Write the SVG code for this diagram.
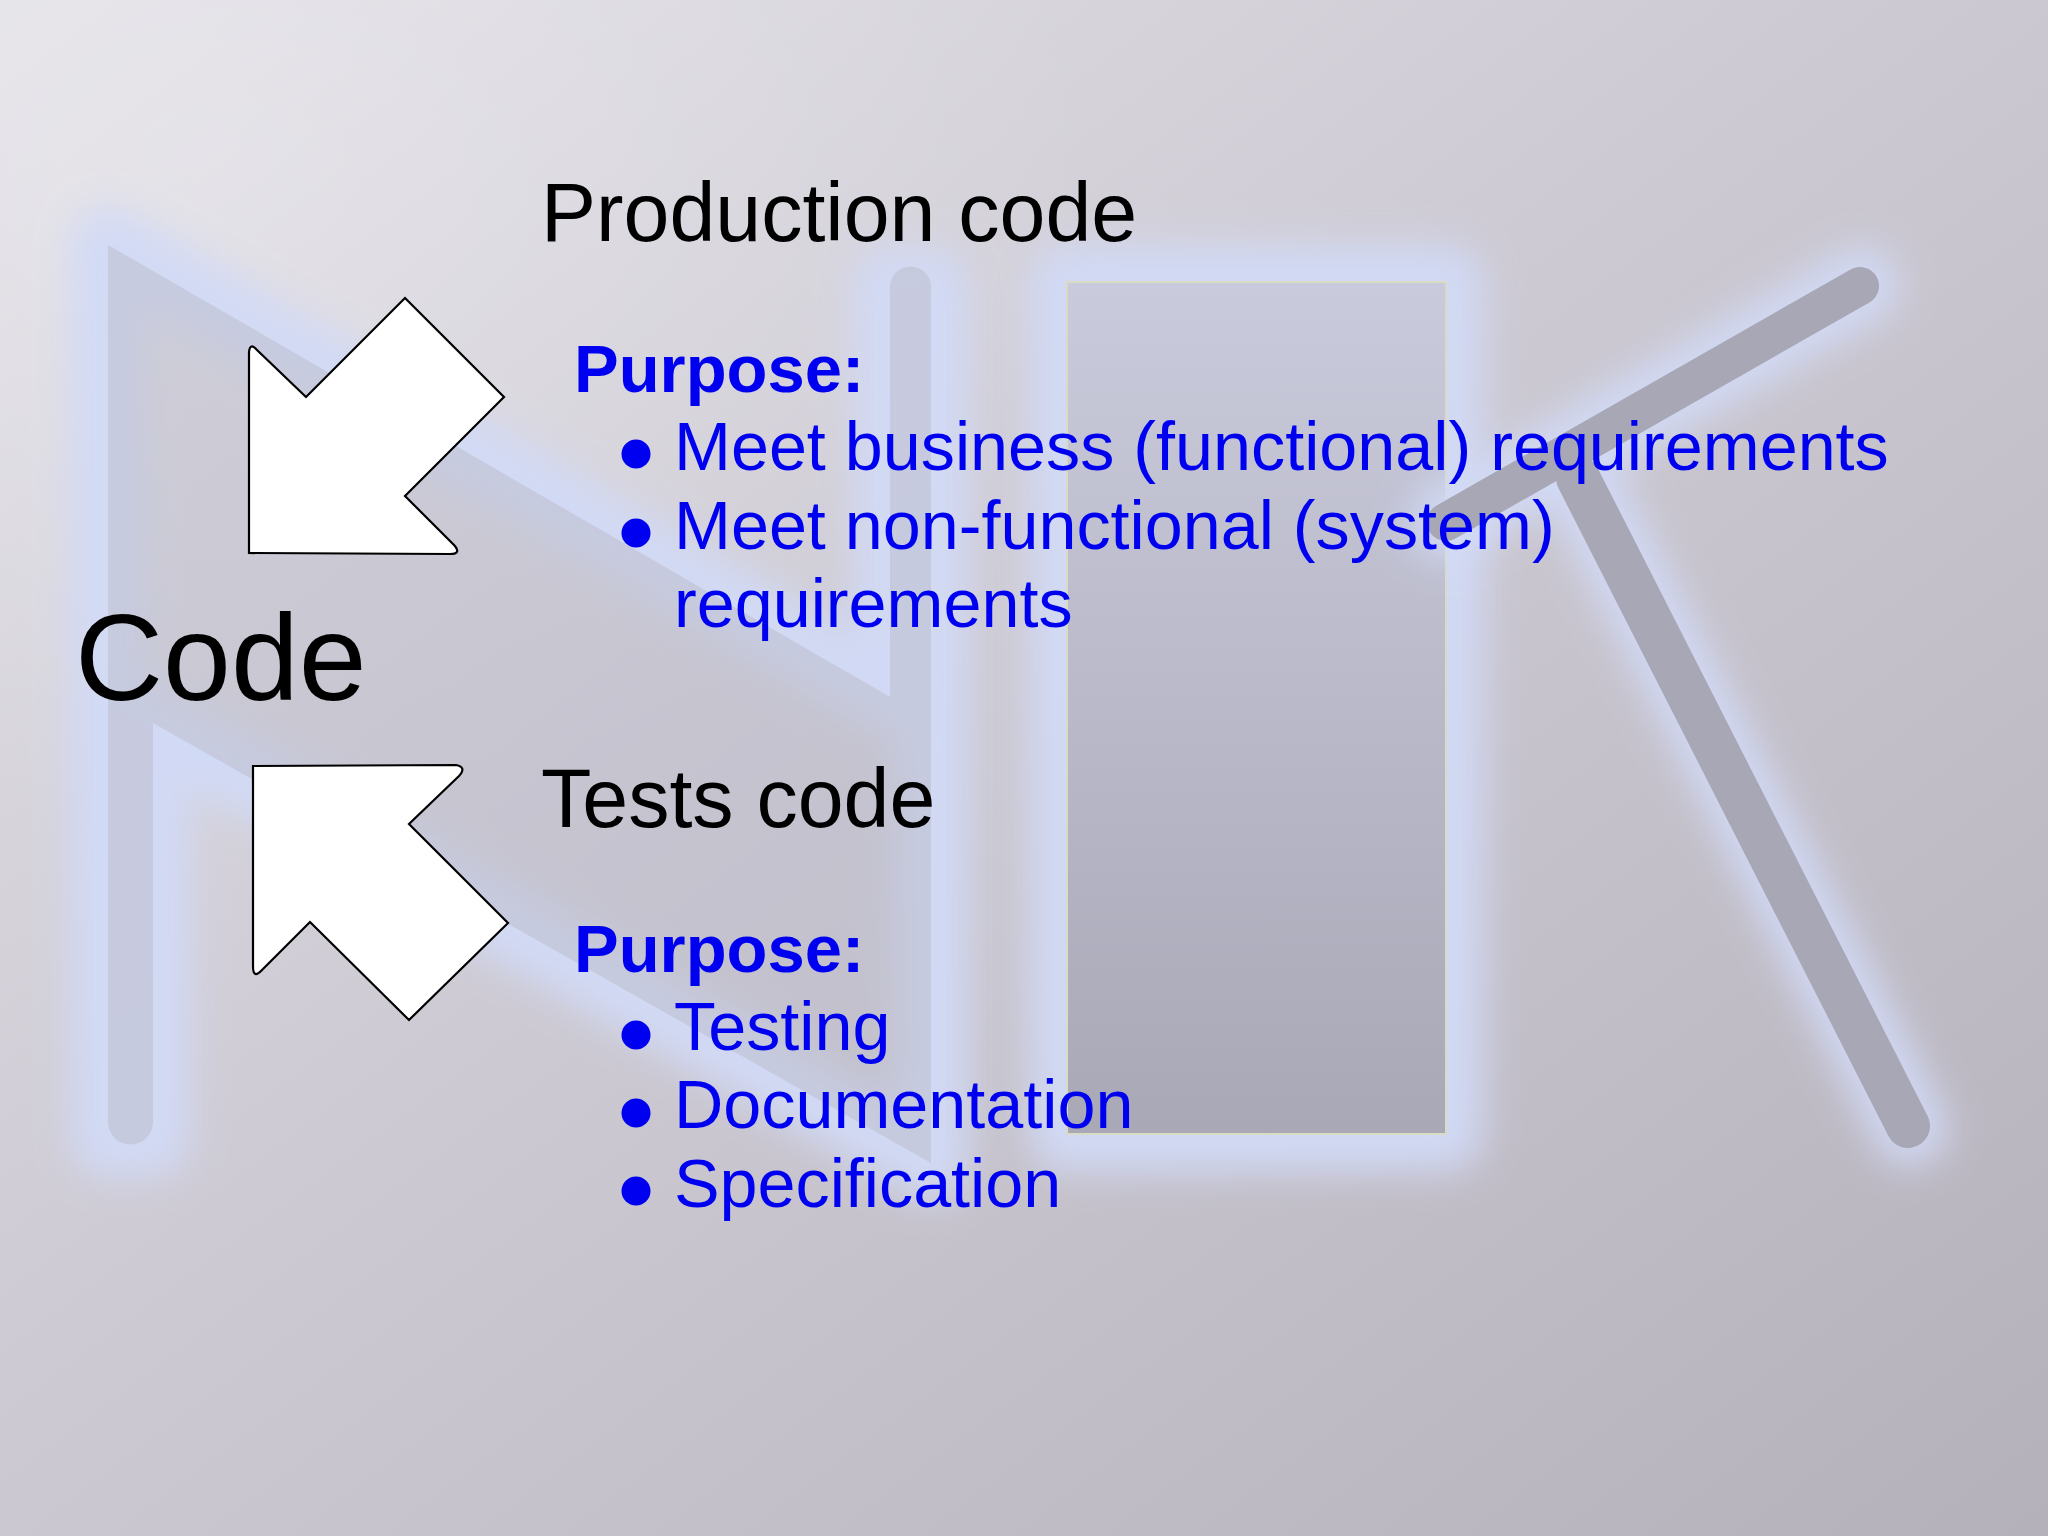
<svg xmlns="http://www.w3.org/2000/svg" width="2048" height="1536" viewBox="0 0 2048 1536">
<defs>
  <linearGradient id="bg" x1="0" y1="0" x2="1" y2="1">
    <stop offset="0" stop-color="#e4e2e8"/>
    <stop offset="0.45" stop-color="#cdcad3"/>
    <stop offset="1" stop-color="#b5b1bb"/>
  </linearGradient>
  <radialGradient id="hl" cx="0.1" cy="0.1" r="0.45">
    <stop offset="0" stop-color="#ffffff" stop-opacity="0.18"/>
    <stop offset="1" stop-color="#ffffff" stop-opacity="0"/>
  </radialGradient>
  <linearGradient id="rectg" x1="0" y1="0" x2="0" y2="1">
    <stop offset="0" stop-color="#c9cadb"/>
    <stop offset="1" stop-color="#a9a8b7"/>
  </linearGradient>
  <filter id="glow" x="-30%" y="-30%" width="160%" height="160%">
    <feGaussianBlur stdDeviation="18"/>
  </filter>
  <style>
    .glow { fill: none; stroke: #d2daf6; stroke-width: 76; stroke-linejoin: round; stroke-linecap: round; filter: url(#glow); opacity: 0.95; }
    .bar { fill: none; stroke: #a8a7b5; stroke-linecap: round; }
    .arrow { fill: #ffffff; stroke: #000000; stroke-width: 2.2; stroke-linejoin: miter; }
    .head { font-family: "Liberation Sans", Arial, sans-serif; font-size: 82.5px; fill: #000000; }
    .big { font-family: "Liberation Sans", Arial, sans-serif; font-size: 122px; fill: #000000; }
    .purp { font-family: "Liberation Sans", Arial, sans-serif; font-size: 67px; font-weight: bold; fill: #0000f0; }
    .item { font-family: "Liberation Sans", Arial, sans-serif; font-size: 68.3px; fill: #0000f0; }
    .dot { fill: #0000f0; }
  </style>
</defs>

<!-- background -->
<rect x="0" y="0" width="2048" height="1536" fill="url(#bg)"/>
<rect x="0" y="0" width="2048" height="1536" fill="url(#hl)"/>

<g id="bg-shapes">
  <path class="glow" d="M108,245 L890,697 L890,285 L931,285 L931,1163 L153,723 L153,1140 L108,1140 Z"/>
  <path d="M108,245 L890,697 L890,287 A20.5,20.5 0 0 1 931,287 L931,1163 L153,723 L153,1122 A22.5,22.5 0 0 1 108,1122 Z" fill="#bcbbca" fill-opacity="0.5"/>
  <rect class="glow" x="1067" y="282" width="379" height="852"/>
  <rect x="1067" y="282" width="379" height="852" fill="url(#rectg)" stroke="#d8dcc4" stroke-width="2"/>
  <path class="glow" d="M1862,285 L1446,522 M1578,476 L1910,1128"/>
  <path class="bar" stroke-width="38" d="M1860,286 L1446,522"/>
  <path class="bar" stroke-width="44" d="M1578,478 L1908,1126"/>
</g>

<g id="connectors">
  <path id="arrow-production" class="arrow" d="M405,298 L504,397 L405,496 L454,545 Q462,554 450,554 L249,553 L249,352 Q250,342 257,350 L306,397 Z"/>
  <path id="arrow-tests" class="arrow" d="M253,766 L456,765 Q467,767 459,776 L409,824 L508,923 L409,1020 L310,922 L261,971 Q253,979 253,966 Z"/>
</g>

<g id="code">
  <text class="big" x="75" y="700">Code</text>
</g>

<g id="production">
  <text class="head" x="541" y="241">Production code</text>
  <text class="purp" x="574" y="392">Purpose:</text>
  <circle class="dot" cx="636" cy="454" r="14.5"/>
  <text class="item" x="674" y="470">Meet business (functional) requirements</text>
  <circle class="dot" cx="636" cy="533" r="14.5"/>
  <text class="item" x="674" y="549">Meet non-functional (system)</text>
  <text class="item" x="674" y="627">requirements</text>
</g>

<g id="tests">
  <text class="head" x="541" y="827">Tests code</text>
  <text class="purp" x="574" y="972">Purpose:</text>
  <circle class="dot" cx="636" cy="1035" r="14.5"/>
  <text class="item" x="674" y="1050">Testing</text>
  <circle class="dot" cx="636" cy="1113" r="14.5"/>
  <text class="item" x="674" y="1128">Documentation</text>
  <circle class="dot" cx="636" cy="1191" r="14.5"/>
  <text class="item" x="674" y="1207">Specification</text>
</g>
</svg>
